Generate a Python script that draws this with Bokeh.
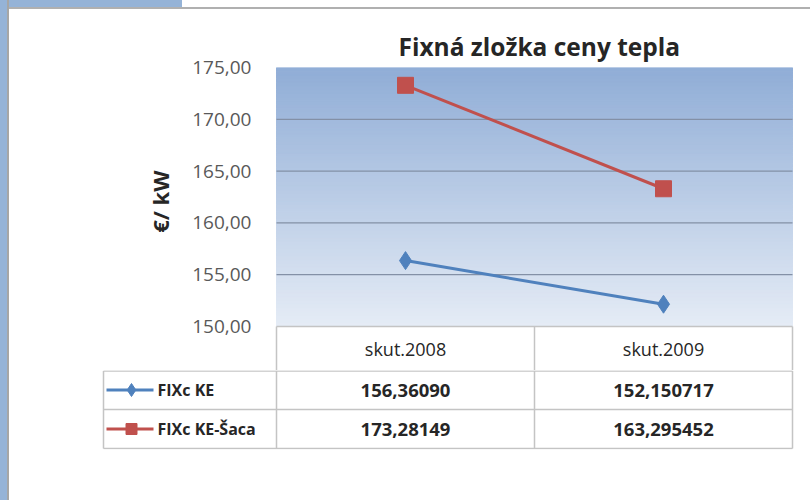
from bokeh.plotting import figure
from bokeh.layouts import column, row
from bokeh.models import Range1d, FixedTicker, Title, Div
from bokeh.core.properties import value
from bokeh.embed import file_html
from bokeh.resources import INLINE

# ---- data ----
categories = ["skut.2008", "skut.2009"]
series_names = ["FIXc KE", "FIXc KE-Šaca"]
fixc_ke = [156.36090, 152.150717]
fixc_ke_saca = [173.28149, 163.295452]
fixc_ke_labels = ["156,36090", "152,150717"]
fixc_ke_saca_labels = ["173,28149", "163,295452"]
y_ticks = [150, 155, 160, 165, 170, 175]
title_text = "Fixná zložka ceny tepla"
y_label = "€/ kW"

FONT = "Open Sans"
BLUE = "#4f81bd"
RED = "#c0504d"
GRID = "#8390a6"
BORDER = "#c4c4c4"
TXT = "#262626"
SLIDE = "#95b3d7"

PW, PH = 810, 500     # used page size (a little slack inside 812x503)
OX, OY = 9, 9         # offset of the figures inside the page (slide frame)
W = PW - OX
ncat = len(categories)
xs = [i + 0.5 for i in range(ncat)]

# pixel layout (page coordinates)
PX = 258.0            # px per category
X0 = 276              # x of category start
PLOT_TOP, PLOT_BOT = 67, 326
HEAD_BOT = 370
ROW_BOT = 449
RIGHT = 795
ypx = (y_ticks[-1] - y_ticks[0]) / (PLOT_BOT - PLOT_TOP)


def py(page_y):
    return y_ticks[-1] - (page_y - PLOT_TOP) * ypx


# ---- chart (with header row of the data table) ----
p = figure(width=W, height=HEAD_BOT - OY, output_backend="svg", toolbar_location=None,
           x_range=Range1d((273 - X0) / PX, (RIGHT - X0) / PX),
           y_range=Range1d(py(HEAD_BOT), y_ticks[-1]),
           x_axis_location=None, min_border_left=273 - OX, min_border_right=PW - RIGHT,
           min_border_top=PLOT_TOP - OY, min_border_bottom=0, frame_align=False)
p.background_fill_color = "white"
p.border_fill_color = "white"
p.outline_line_color = None
p.grid.visible = False

# gradient plot-area fill (decoration)
n = 70
top_c = (145, 174, 215)
bot_c = (229, 236, 246)
y0, y1 = y_ticks[0], y_ticks[-1]
bands_b, bands_t, bands_col = [], [], []
for i in range(n):
    f = i / (n - 1)
    c = tuple(int(bot_c[k] + (top_c[k] - bot_c[k]) * f) for k in range(3))
    bands_b.append(y0 + (y1 - y0) * i / n)
    bands_t.append(y0 + (y1 - y0) * (i + 1) / n)
    bands_col.append("#%02x%02x%02x" % c)
p.quad(left=0, right=ncat, bottom=bands_b, top=bands_t,
       fill_color=bands_col, line_color=bands_col, line_width=1)

for t_ in y_ticks[1:-1]:
    p.line([0, ncat], [t_, t_], line_color=GRID, line_width=1.2)

# header row borders
hb = py(HEAD_BOT)
p.segment(x0=list(range(ncat + 1)), y0=[hb] * (ncat + 1), x1=list(range(ncat + 1)),
          y1=[y0] * (ncat + 1), line_color=BORDER, line_width=1.5)
p.line([0, ncat], [y0, y0], line_color=BORDER, line_width=1.5)
p.text(x=xs, y=[py(348)] * ncat, text=categories, text_align="center", text_baseline="middle",
       text_font=value(FONT), text_font_size="18px", text_color=TXT)

p.line(xs, fixc_ke_saca, line_color=RED, line_width=3)
p.scatter(xs, fixc_ke_saca, marker="square", size=16, fill_color=RED, line_color=RED)
p.line(xs, fixc_ke, line_color=BLUE, line_width=3)
p.scatter(xs, fixc_ke, marker="diamond", size=18, fill_color=BLUE, line_color=BLUE)

ax = p.yaxis[0]
ax.ticker = FixedTicker(ticks=y_ticks)
ax.major_label_overrides = {t: f"{t:.2f}".replace(".", ",") for t in y_ticks}
ax.major_label_text_font = FONT
ax.major_label_text_font_size = "19px"
ax.major_label_text_color = "#595959"
ax.major_label_standoff = 16
ax.major_tick_line_color = None
ax.minor_tick_line_color = None
ax.axis_line_color = None

ylab = Title(text=y_label, align="right", offset=170 - PLOT_TOP, text_font=FONT,
             text_font_size="22px", text_font_style="bold", text_color=TXT, standoff=30)
p.add_layout(ylab, "left")

p.title.text = title_text
p.title.align = "left"
p.title.offset = 398 - 273
p.title.text_font = FONT
p.title.text_font_size = "24.5px"
p.title.text_font_style = "bold"
p.title.text_color = TXT

# ---- data table rows ----
t = figure(width=W, height=PH - HEAD_BOT, output_backend="svg", toolbar_location=None,
           x_range=Range1d((100 - X0) / PX, (RIGHT - X0) / PX),
           y_range=Range1d(0, ROW_BOT - HEAD_BOT),
           x_axis_location=None, y_axis_location=None,
           min_border_left=100 - OX, min_border_right=PW - RIGHT, min_border_top=0,
           min_border_bottom=PH - ROW_BOT, frame_align=False)
t.outline_line_color = None
t.grid.visible = False
t.border_fill_color = "white"


def ty(page_y):
    return ROW_BOT - page_y


lx = (103 - X0) / PX
rows_y = [ty(370.6), ty(409), ty(448)]
t.segment(x0=[lx] * 3, y0=rows_y, x1=[ncat] * 3, y1=rows_y, line_color=BORDER, line_width=1.5)
vx = [lx] + list(range(ncat + 1))
t.segment(x0=vx, y0=[ty(448)] * len(vx), x1=vx, y1=[ty(370.6)] * len(vx),
          line_color=BORDER, line_width=1.5)

r1, r2 = ty(389.5), ty(428.5)
t.text(x=xs, y=[r1] * ncat, text=fixc_ke_labels, text_align="center", text_baseline="middle",
       text_font=value(FONT), text_font_size="18.5px", text_font_style="bold", text_color=TXT)
t.text(x=xs, y=[r2] * ncat, text=fixc_ke_saca_labels, text_align="center", text_baseline="middle",
       text_font=value(FONT), text_font_size="18.5px", text_font_style="bold", text_color=TXT)

k0 = (106 - X0) / PX
k1 = (153 - X0) / PX
km = (131 - X0) / PX
t.line([k0, k1], [r1, r1], line_color=BLUE, line_width=3)
t.scatter([km], [r1], marker="diamond", size=13, fill_color=BLUE, line_color=BLUE)
t.line([k0, k1], [r2, r2], line_color=RED, line_width=3)
t.scatter([km], [r2], marker="square", size=11, fill_color=RED, line_color=RED)
t.text(x=[(157 - X0) / PX] * 2, y=[r1, r2], text=series_names, text_align="left",
       text_baseline="middle", text_font=value(FONT), text_font_size="16px",
       text_font_style="bold", text_color=TXT)

# slide frame around the chart (decoration)
left_strip = Div(text="", width=OX, height=PH, margin=0,
                 styles={"background-color": SLIDE, "border-right": "2px solid #a6a6a6",
                         "box-sizing": "border-box"})
top_strip = Div(text="", width=W, height=OY, margin=0,
                styles={"background": f"linear-gradient(to right, {SLIDE} 173px, white 173px)",
                        "border-bottom": "2px solid #b0b0b0", "box-sizing": "border-box"})

layout = row(left_strip, column(top_strip, p, t, spacing=0), spacing=0)
open("out.html", "w").write(file_html(layout, INLINE))
